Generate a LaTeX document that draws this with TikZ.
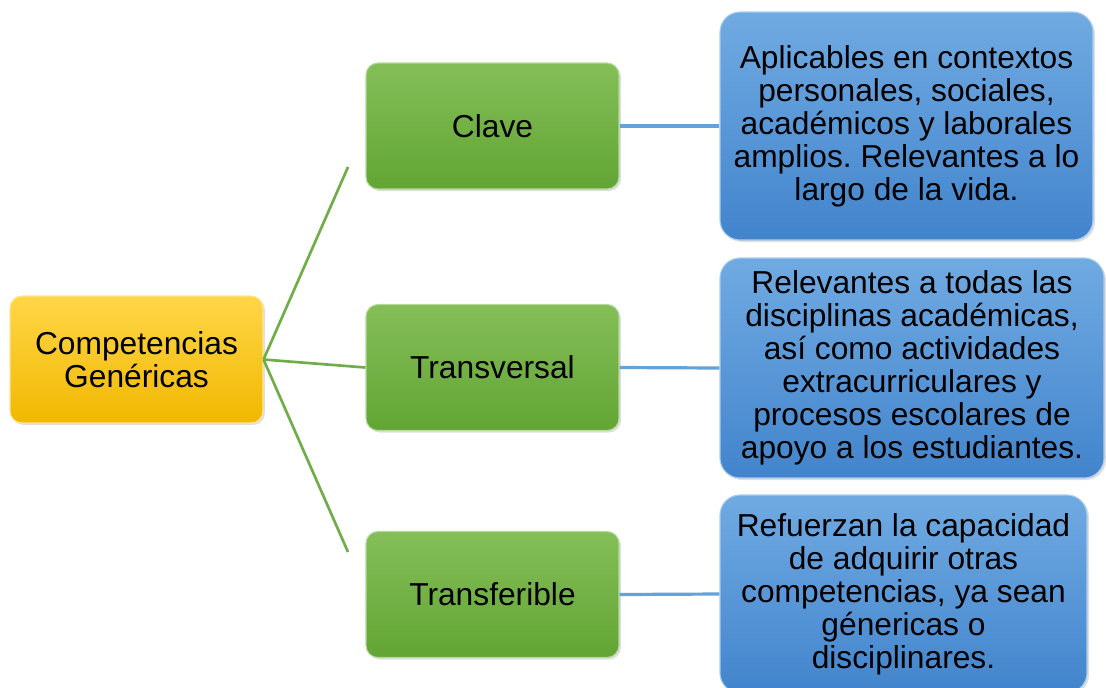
\documentclass[tikz,border=0pt]{standalone}
\usepackage{fontspec}
\setmainfont{Liberation Sans}
\usetikzlibrary{shadows}
\frenchspacing

\definecolor{genTop}{RGB}{255,214,72}
\definecolor{genBot}{RGB}{240,184,0}
\definecolor{tipoTop}{RGB}{132,190,88}
\definecolor{tipoBot}{RGB}{98,165,52}
\definecolor{descTop}{RGB}{112,170,226}
\definecolor{descBot}{RGB}{66,132,204}
\definecolor{ramaVerde}{RGB}{112,173,71}
\definecolor{ramaAzul}{RGB}{100,162,218}

\tikzset{
  caja/.style={rounded corners=9pt, align=center, inner sep=0pt, text=black,
    font=\fontsize{23.8}{24.75}\selectfont,
    drop shadow={opacity=0.25, shadow xshift=1.5pt, shadow yshift=-1.5pt}},
  cajagen/.style={caja, top color=genTop, bottom color=genBot, draw=genTop!60!white, line width=0.8pt,
    minimum width=189.75pt, minimum height=95.25pt},
  cajatipo/.style={caja, top color=tipoTop, bottom color=tipoBot, draw=tipoTop!60!white, line width=0.8pt,
    minimum width=189.75pt, minimum height=94.5pt},
  cajadesc/.style={caja, rounded corners=15pt, top color=descTop, bottom color=descBot, draw=descTop!60!white, line width=0.8pt},
  ramav/.style={draw=ramaVerde, line width=2pt},
  ramaa/.style={draw=ramaAzul, line width=2.4pt}
}

\begin{document}
\begin{tikzpicture}[x=0.75pt,y=0.75pt,yscale=-1,xscale=1]
    \clip (0,0) rectangle (1106,687);
    \fill[white] (0,0) rectangle (1106,687);

    %Shape: Rounded Rect (centro)
    \node[cajagen] (gen) at (136.5,359.5) {Competencias\\Genéricas};

    %Shape: Rounded Rect (tipos)
    \node[cajatipo] (clave) at (492.5,126) {Clave};
    \node[cajatipo] (trans) at (492.5,367.5) {Transversal};
    \node[cajatipo] (transf) at (492.5,594.5) {Transferible};

    %Shape: Rounded Rect (descripciones)
    \node[cajadesc, minimum width=279.75pt, minimum height=171pt] (dclave) at (906.5,126)
      {Aplicables en contextos\\personales, sociales,\\académicos y laborales\\amplios. Relevantes a lo\\largo de la vida.};
    \node[cajadesc, minimum width=288pt, minimum height=165pt] (dtrans) at (912,368)
      {Relevantes a todas las\\disciplinas académicas,\\así como actividades\\extracurriculares y\\procesos escolares de\\apoyo a los estudiantes.};
    \node[cajadesc, minimum width=275.25pt, minimum height=148.5pt] (dtransf) at (903.5,594)
      {Refuerzan la capacidad\\de adquirir otras\\competencias, ya sean\\génericas o\\disciplinares.};

    %Straight Lines (ramas verdes)
    \coordinate (finArriba) at (348,167);
    \coordinate (finAbajo) at (348,552);
    \draw[ramav] (gen.east) -- (finArriba);
    \draw[ramav] (gen.east) -- (trans.west);
    \draw[ramav] (gen.east) -- (finAbajo);

    %Straight Lines (ramas azules)
    \draw[ramaa] (clave.east) -- (dclave.west);
    \draw[ramaa] (trans.east) -- (dtrans.west);
    \draw[ramaa] (transf.east) -- (dtransf.west);

\end{tikzpicture}
\end{document}
